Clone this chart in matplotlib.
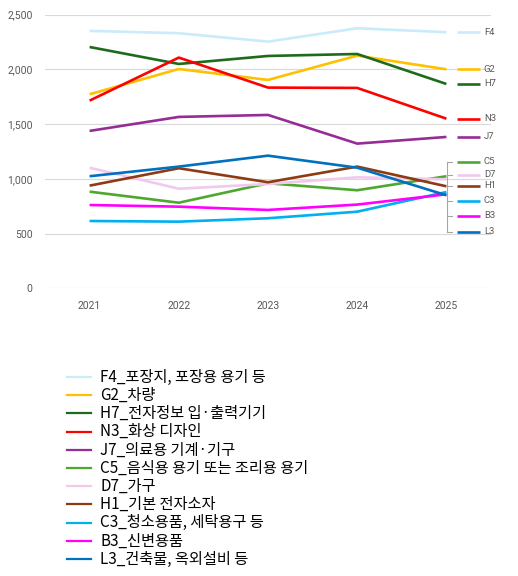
import matplotlib
matplotlib.use("Agg")
import matplotlib.pyplot as plt
from matplotlib.lines import Line2D

years = [2021, 2022, 2023, 2024, 2025]

codes = ["F4", "G2", "H7", "N3", "J7", "C5", "D7", "H1", "C3", "B3", "L3"]
names = [
    "F4_포장지, 포장용 용기 등",
    "G2_차량",
    "H7_전자정보 입·출력기기",
    "N3_화상 디자인",
    "J7_의료용 기계·기구",
    "C5_음식용 용기 또는 조리용 용기",
    "D7_가구",
    "H1_기본 전자소자",
    "C3_청소용품, 세탁용구 등",
    "B3_신변용품",
    "L3_건축물, 옥외설비 등",
]

F4 = [2352, 2331, 2254, 2376, 2340]
G2 = [1773, 2004, 1904, 2126, 2001]
H7 = [2205, 2050, 2123, 2141, 1867]
N3 = [1715, 2108, 1834, 1831, 1550]
J7 = [1438, 1566, 1584, 1322, 1383]
C5 = [883, 782, 960, 896, 1024]
D7 = [1102, 910, 953, 1014, 996]
H1 = [938, 1097, 969, 1112, 932]
C3 = [615, 609, 640, 700, 880]
B3 = [761, 746, 716, 765, 859]
L3 = [1024, 1112, 1212, 1102, 850]
series = [F4, G2, H7, N3, J7, C5, D7, H1, C3, B3, L3]

colors = ["#c9ecfa", "#ffc000", "#1e6b1e", "#ff0000", "#962d96", "#4ea72e",
          "#f2c9ee", "#8e3b12", "#00b0f0", "#ff00ff", "#0070c0"]

# where the end labels sit (some are spread apart and tied with a bracket)
label_y = {"C5": 1157, "D7": 1036, "H1": 935, "C3": 801, "B3": 665, "L3": 516}
grey = "#595959"

fig = plt.figure(figsize=(5.18, 5.76), dpi=100)
ax = fig.add_axes([45 / 518, 1 - 288.3 / 576, 446 / 518, 273.6 / 576])

for code, vals, col in zip(codes, series, colors):
    ax.plot(years, vals, color=col, lw=1.9, solid_capstyle="butt", zorder=3)
    ly = label_y.get(code, vals[-1])
    ax.plot([2025.123, 2025.373], [ly, ly], color=col, lw=1.9,
            solid_capstyle="butt", clip_on=False, zorder=3)
    ax.text(2025.42, ly, code, color=grey, fontsize=6.8, va="center",
            ha="left", family="Roboto", clip_on=False)

# bracket for the crowded labels
ys = list(label_y.values())
ax.plot([2025.011, 2025.011], [min(ys), max(ys)], color="#a6a6a6", lw=0.8,
        zorder=2)
for y in ys:
    ax.plot([2025.011, 2025.067], [y, y], color="#a6a6a6", lw=0.8, zorder=2)

ax.set_xlim(2020.5, 2025.5)
ax.set_ylim(0, 2500)
ax.set_xticks(years)
ax.set_yticks(range(0, 2501, 500))
ax.set_yticklabels([f"{v:,}" for v in range(0, 2501, 500)])
ax.tick_params(length=0, labelsize=7.5, labelcolor=grey)
ax.tick_params(axis="x", pad=9)
ax.tick_params(axis="y", pad=9)
for lab in ax.get_xticklabels() + ax.get_yticklabels():
    lab.set_family("Roboto")
ax.grid(axis="y", color="#d9d9d9", lw=0.8)
ax.set_axisbelow(True)
for s in ax.spines.values():
    s.set_visible(False)

# legend below the chart
for i, (name, col) in enumerate(zip(names, colors)):
    yy = 1 - (377 + i * 18.2) / 576
    fig.add_artist(Line2D([66.7 / 518, 91 / 518], [yy, yy], color=col, lw=1.6,
                          transform=fig.transFigure))
    fig.text(100 / 518, yy, name, fontsize=11, va="center", ha="left",
             family=["Noto Sans CJK KR", "DejaVu Sans"], color="black")

fig.savefig("out.png", dpi=100)
